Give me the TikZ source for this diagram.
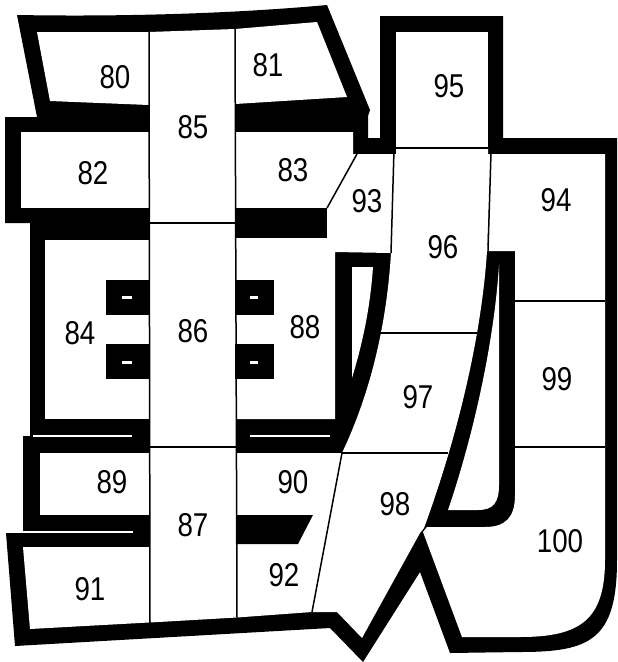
\documentclass[tikz,border=0pt]{standalone}
\usepackage{fontspec}
\setmainfont{Liberation Sans}[FakeStretch=0.84]
\begin{document}
\begin{tikzpicture}[x=1pt,y=-1pt,
  lab/.style={inner sep=0pt,font=\fontsize{33}{33}\selectfont},
  thin/.style={line width=1.5pt,black},
  gap/.style={white}]
\useasboundingbox (0,0) rectangle (618,662);
\fill[white] (0,0) rectangle (618,662);
% black silhouette
\fill[black] (17,15) .. controls (130,17) and (240,13) .. (327,5) -- (370,110) -- (368,116)
  -- (368,138) -- (380,138) -- (380,16) -- (503,16) -- (503,138) -- (617,138)
  -- (617,560) .. controls (617,640) and (590,652) .. (520,652) -- (450,653)
  -- (420,572) -- (363,662) -- (330,628) -- (15,646) -- (6,533) -- (23,533)
  -- (23,436) -- (30,436) -- (30,223) -- (5,223) -- (5,117) -- (37,117) -- cycle;
% white cells
\fill[white] (37,32) -- (149,32) -- (149,105) -- (50,101) -- cycle; % 80
\fill[white] (235,29) -- (317,22) -- (347,97) -- (235,104) -- cycle; % 81
\fill[white] (149,32) -- (235,29) -- (237,617.5) -- (150,622.5) -- cycle; % 85 86 87
\fill[white] (21,132) rectangle (149,208); % 82
\fill[white] (235,132) -- (353,132) -- (353,154) -- (395,154) -- (391,253) -- (335,252)
  -- (335,419) -- (235,419) -- cycle; % 83 93 88
\fill[white] (45,240) rectangle (149,419); % 84
\fill[white] (40,453) rectangle (149,515); % 89
\fill[white] (23,547) -- (149,547) -- (149,622.5) -- (30,629) -- cycle; % 91
\fill[white] (237,453) -- (342,453) -- (312,612) -- (237,617.5) -- cycle; % 90 92
\fill[white] (396,32) rectangle (488,148); % 95
\fill[white] (396,148) -- (488,148) -- (488,154) -- (491,154) -- (487,251)
  .. controls (482,330) and (460,430) .. (424,528) -- (420,533) -- (362,638)
  -- (337,612) -- (312,612) -- (342,453) .. controls (372,390) and (387,320) .. (391,253)
  -- (394,154) -- (396,154) -- cycle; % 96 97 98
\fill[white] (491,154) -- (605,154) -- (605,560) .. controls (605,620) and (580,637) .. (520,637)
  -- (462,637) -- (423,532) -- (427,527) -- (485,527) .. controls (505,527) and (515,518) .. (515,495)
  -- (515,251) -- (487,251) -- cycle; % 94 99 100
\fill[white] (499,265) -- (499,485) .. controls (499,503) and (493,510) .. (478,510) -- (448,510)
  .. controls (472,440) and (494,345) .. (499,265) -- cycle; % hook sliver
\fill[white] (352,267) -- (373,267) .. controls (370,310) and (362,345) .. (352,378) -- cycle; % sliver
% black details
\fill[black] (235,208) rectangle (327,238);
\fill[black] (106,280) rectangle (149,315);
\fill[black] (106,344) rectangle (149,379);
\fill[black] (235,280) rectangle (274,315);
\fill[black] (235,344) rectangle (274,379);
\fill[black] (236,515) -- (313,515) -- (298,544) -- (236,544) -- cycle;
\fill[gap] (122,296) rectangle (132,299);
\fill[gap] (122,360.5) rectangle (132,363.5);
\fill[gap] (250,296) rectangle (258,299);
\fill[gap] (250,360.5) rectangle (258,363.5);
\fill[gap] (33,435.2) rectangle (132,437.4);
\fill[gap] (250,435.2) rectangle (330,437.4);
\fill[gap] (23,531.3) rectangle (133,532.6);
% thin dividing lines
\draw[thin] (149,32) -- (150,622.5);
\draw[thin] (235,29) -- (237,617.5);
\draw[thin] (150,223) -- (235,223);
\draw[thin] (150,447) -- (237,447);
\draw[thin] (357,154) -- (327,208);
\draw[thin] (394,150) -- (391,253);
\draw[thin] (396,148) -- (488,148);
\draw[thin] (491,153) -- (488,251);
\draw[thin] (380,333) -- (477,333);
\draw[thin] (342,453) -- (448,453);
\draw[thin] (342,453) -- (312,612);
\draw[thin] (515,301) -- (605,301);
\draw[thin] (515,447) -- (605,447);
% labels
\node[lab] (n80) at (115,77) {80};
\node[lab] (n81) at (268,65) {81};
\node[lab] (n82) at (93,173) {82};
\node[lab] (n83) at (293,170) {83};
\node[lab] (n85) at (193,127) {85};
\node[lab] (n93) at (367,201) {93};
\node[lab] (n95) at (449,86) {95};
\node[lab] (n94) at (556,200) {94};
\node[lab] (n96) at (443,247) {96};
\node[lab] (n84) at (80,333) {84};
\node[lab] (n86) at (193,331) {86};
\node[lab] (n88) at (305,327) {88};
\node[lab] (n97) at (418,397) {97};
\node[lab] (n99) at (557,379) {99};
\node[lab] (n89) at (112,482) {89};
\node[lab] (n90) at (293,482) {90};
\node[lab] (n87) at (193,525) {87};
\node[lab] (n98) at (395,504) {98};
\node[lab] (n100) at (560,541) {100};
\node[lab] (n91) at (90,589) {91};
\node[lab] (n92) at (284,575) {92};
\end{tikzpicture}
\end{document}
